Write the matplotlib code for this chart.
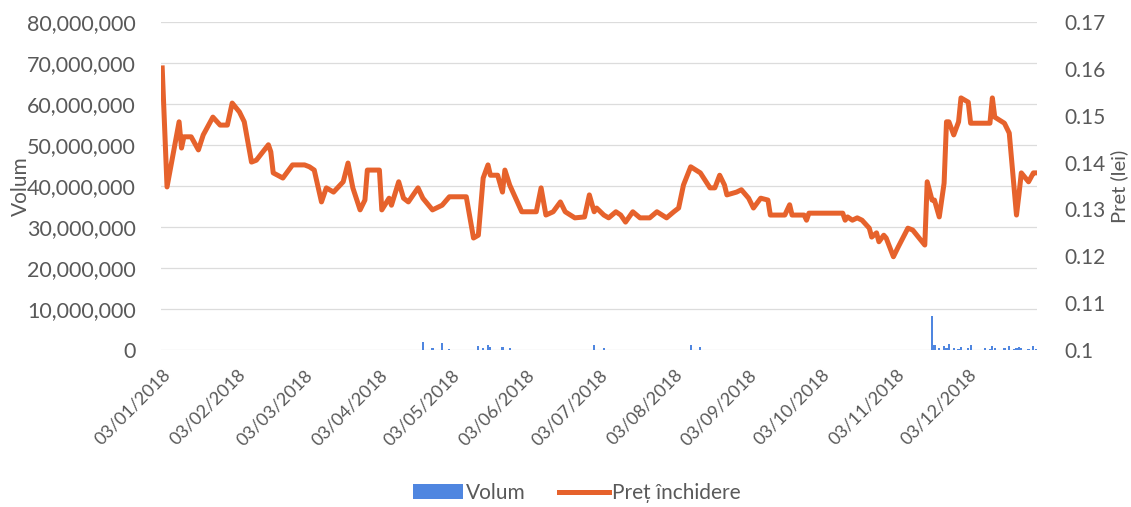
import matplotlib
matplotlib.use('Agg')
import matplotlib.pyplot as plt
import matplotlib.dates as mdates
from matplotlib.ticker import FuncFormatter, FixedLocator
from matplotlib.patches import Patch
from matplotlib.lines import Line2D
import pandas as pd

plt.rcParams['font.family'] = ['Lato', 'DejaVu Sans']

# trading days counted from 03/01/2018
start_date = '2018-01-03'
day_offsets = [
    0, 2, 7, 8, 9, 12, 15, 17, 21, 24, 27, 29, 32, 34, 37, 39, 44, 45, 46, 50,
    54, 59, 61, 63, 66, 68, 71, 75, 77, 79, 82, 84, 85, 88, 90, 91, 94, 95, 98, 100,
    102, 106, 108, 112, 116, 119, 126, 129, 131, 133, 135, 136, 139, 141, 142, 144, 149, 155, 157, 159,
    162, 165, 167, 171, 175, 177, 179, 180, 183, 185, 188, 190, 192, 195, 198, 202, 205, 209, 212, 214,
    216, 219, 223, 227, 229, 231, 233, 234, 238, 240, 243, 245, 248, 251, 252, 258, 260, 261, 266, 267,
    268, 282, 283, 284, 286, 288, 290, 293, 294, 296, 297, 299, 300, 303, 305, 309, 311, 316, 317, 319,
    320, 322, 324, 325, 326, 328, 330, 331, 334, 335, 341, 343, 344, 345, 349, 351, 353, 354, 355, 356,
    359, 361, 362,
]

# closing price (lei)
pret = [
    0.1602, 0.1348, 0.1487, 0.1431, 0.1455, 0.1455, 0.1427, 0.1459, 0.1497, 0.1480,
    0.1480, 0.1527, 0.1508, 0.1487, 0.1401, 0.1405, 0.1438, 0.1423, 0.1378, 0.1367,
    0.1395, 0.1395, 0.1391, 0.1384, 0.1316, 0.1346, 0.1337, 0.1359, 0.1399, 0.1346,
    0.1299, 0.1320, 0.1384, 0.1384, 0.1384, 0.1299, 0.1324, 0.1309, 0.1359, 0.1324,
    0.1316, 0.1346, 0.1324, 0.1299, 0.1309, 0.1327, 0.1327, 0.1239, 0.1245, 0.1367,
    0.1395, 0.1373, 0.1373, 0.1337, 0.1384, 0.1352, 0.1295, 0.1295, 0.1346, 0.1288,
    0.1295, 0.1316, 0.1295, 0.1282, 0.1284, 0.1331, 0.1295, 0.1303, 0.1288, 0.1282,
    0.1295, 0.1288, 0.1273, 0.1295, 0.1282, 0.1282, 0.1295, 0.1282, 0.1295, 0.1303,
    0.1352, 0.1391, 0.1378, 0.1346, 0.1346, 0.1373, 0.1352, 0.1331, 0.1337, 0.1342,
    0.1324, 0.1303, 0.1324, 0.1320, 0.1288, 0.1288, 0.1310, 0.1288, 0.1288, 0.1277,
    0.1292, 0.1292, 0.1277, 0.1284, 0.1277, 0.1282, 0.1277, 0.1260, 0.1241, 0.1250,
    0.1231, 0.1245, 0.1239, 0.1199, 0.1220, 0.1260, 0.1256, 0.1224, 0.1359, 0.1320,
    0.1320, 0.1284, 0.1356, 0.1487, 0.1487, 0.1459, 0.1487, 0.1538, 0.1529, 0.1484,
    0.1484, 0.1484, 0.1538, 0.1497, 0.1484, 0.1463, 0.1346, 0.1288, 0.1331, 0.1378,
    0.1359, 0.1378, 0.1378,
]

# traded volume
volum = [
    60000, 45000, 38000, 25000, 30000, 42000, 22000, 35000, 48000, 26000,
    18000, 52000, 28000, 21000, 46000, 32000, 24000, 18000, 41000, 28000,
    22000, 16000, 26000, 20000, 50000, 32000, 18000, 28000, 22000, 36000,
    26000, 44000, 34000, 24000, 18000, 52000, 30000, 22000, 36000, 28000,
    42000, 32000, 1900000, 400000, 1700000, 300000, 90000, 60000, 900000, 500000,
    1100000, 700000, 80000, 800000, 70000, 400000, 50000, 40000, 30000, 45000,
    28000, 38000, 24000, 32000, 22000, 50000, 1200000, 80000, 600000, 36000,
    28000, 24000, 40000, 32000, 22000, 18000, 26000, 34000, 20000, 30000,
    70000, 1200000, 700000, 90000, 44000, 36000, 52000, 30000, 38000, 26000,
    34000, 42000, 30000, 24000, 38000, 32000, 22000, 28000, 20000, 34000,
    24000, 18000, 26000, 32000, 22000, 18000, 30000, 24000, 40000, 52000,
    36000, 48000, 30000, 42000, 60000, 38000, 50000, 44000, 90000, 8300000,
    1300000, 500000, 900000, 600000, 1500000, 400000, 350000, 800000, 500000, 1100000,
    400000, 300000, 900000, 550000, 450000, 1000000, 350000, 500000, 700000, 600000,
    250000, 1000000, 300000,
]

tick_dates = pd.date_range('2018-01-01', '2018-12-01', freq='MS') + pd.Timedelta(days=2)
vol_ticks = [0, 10e6, 20e6, 30e6, 40e6, 50e6, 60e6, 70e6, 80e6]
pret_ticks = [0.10, 0.11, 0.12, 0.13, 0.14, 0.15, 0.16, 0.17]

dates = pd.Timestamp(start_date) + pd.to_timedelta(day_offsets, unit='D')

txt = '#595959'
blue = '#4F86E0'
orange = '#E6622C'

fig = plt.figure(figsize=(11.31, 5.07), dpi=100)
ax = fig.add_axes([161 / 1131, 157 / 507, 876 / 1131, 328 / 507])
ax2 = ax.twinx()

ax.bar(dates, volum, width=0.9, color=blue, zorder=2)
ax2.plot(dates, pret, color=orange, lw=3.6, solid_joinstyle='round', zorder=3)

ax.set_ylim(0, 80e6)
ax2.set_ylim(0.10, 0.17)
ax.set_xlim(pd.Timestamp(start_date) - pd.Timedelta(hours=12),
            dates[-1] + pd.Timedelta(hours=12))

ax.yaxis.set_major_locator(FixedLocator(vol_ticks))
ax.yaxis.set_major_formatter(FuncFormatter(lambda v, p: f'{v:,.0f}'))
ax2.yaxis.set_major_locator(FixedLocator(pret_ticks))
ax2.yaxis.set_major_formatter(FuncFormatter(lambda v, p: f'{round(v, 2):g}'))
ax.xaxis.set_major_locator(FixedLocator(mdates.date2num(tick_dates)))
ax.xaxis.set_major_formatter(mdates.DateFormatter('%d/%m/%Y'))

ax.grid(axis='y', color='#DCDCDC', lw=0.9, zorder=0)
ax.set_axisbelow(True)
for a in (ax, ax2):
    for s in a.spines.values():
        s.set_visible(False)
    a.tick_params(length=0, colors=txt)

ax.tick_params(axis='y', labelsize=15.5, pad=18)
ax2.tick_params(axis='y', labelsize=15, pad=20)
ax.tick_params(axis='x', labelsize=13, pad=12)
for lbl in ax.get_xticklabels():
    lbl.set_rotation(45)
    lbl.set_ha('right')
    lbl.set_rotation_mode('anchor')

ax.set_ylabel('Volum', fontsize=15, color=txt, labelpad=-3)
ax2.set_ylabel('Pret (lei)', fontsize=14.5, color=txt, labelpad=3)

handles = [Patch(facecolor=blue, edgecolor='none'),
           Line2D([0], [0], color=orange, lw=3.6)]
fig.legend(handles, ['Volum', 'Preț închidere'], loc='center',
           bbox_to_anchor=(0.51, 0.028), ncol=2, frameon=False,
           fontsize=15, labelcolor=txt, handlelength=2.4,
           handletextpad=0.15, columnspacing=1.6)

fig.savefig('out.png', dpi=100)
